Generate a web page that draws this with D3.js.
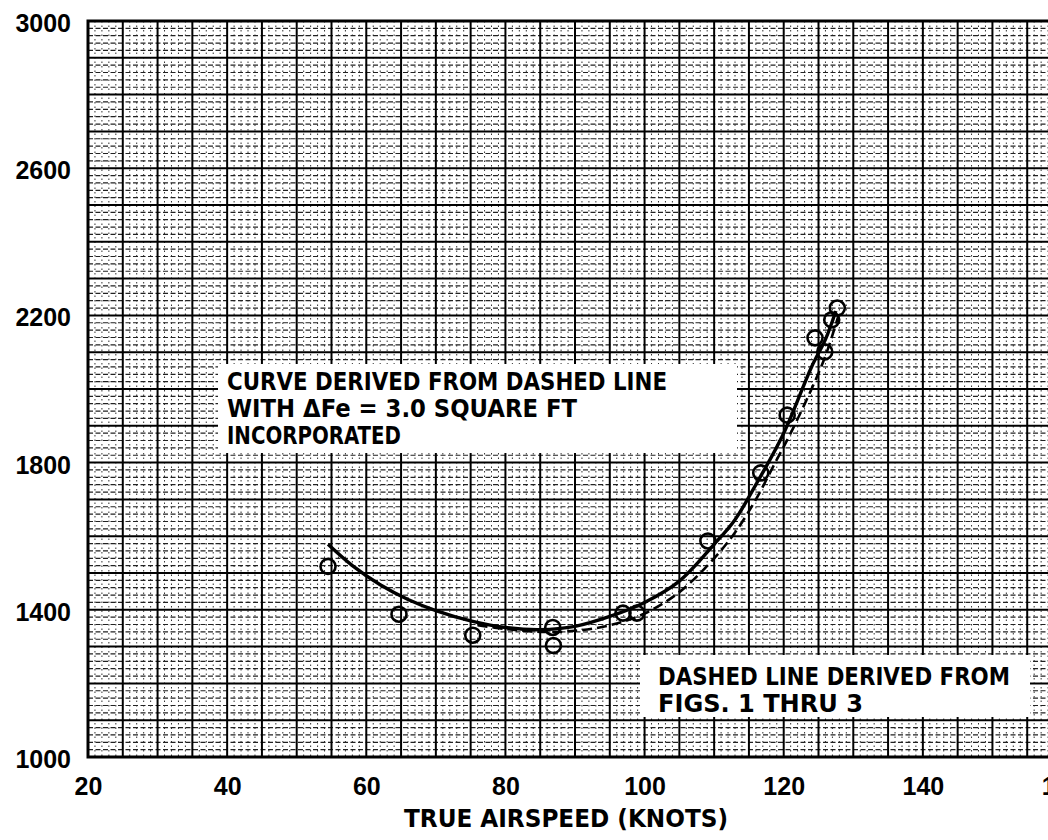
<!DOCTYPE html>
<html>
<head>
<meta charset="utf-8">
<script src="https://cdn.jsdelivr.net/npm/d3@7/dist/d3.min.js"></script>
<style>
  html, body { margin: 0; padding: 0; background: #fff; }
  svg { display: block; }
</style>
</head>
<body>
<svg id="chart" width="1048" height="840"></svg>
<script>
// ---- data ----
const xTicks = [20, 40, 60, 80, 100, 120, 140, 160];
const yTicks = [1000, 1400, 1800, 2200, 2600, 3000];
const xTitle = "TRUE AIRSPEED (KNOTS)";

const pointSpeed = [54.5, 64.7, 75.3, 86.8, 86.9, 96.9, 98.9, 109.1, 116.7, 120.5, 124.5, 125.9, 126.9, 127.7];
const pointPower = [1518, 1388, 1331, 1352, 1303, 1391, 1391, 1587, 1772, 1929, 2139, 2101, 2188, 2220];

const solidSpeed = [54.5, 58, 62, 66, 70, 75, 80, 85, 90, 95, 100, 105, 110, 113, 116, 120, 124, 126, 127.5];
const solidPower = [1578, 1520, 1468, 1428, 1398, 1370, 1352, 1346, 1355, 1382, 1420, 1478, 1578, 1645, 1740, 1880, 2060, 2135, 2212];

const dashedSpeed = [76, 80, 85, 90, 95, 100, 105, 110, 113, 116, 118.5, 121, 124, 126, 127.8];
const dashedPower = [1358, 1348, 1340, 1343, 1358, 1390, 1448, 1540, 1610, 1700, 1790, 1880, 2000, 2090, 2195];

const note1 = ["CURVE DERIVED FROM DASHED LINE", "WITH \u0394Fe = 3.0 SQUARE FT", "INCORPORATED"];
const note2 = ["DASHED LINE DERIVED FROM", "FIGS. 1 THRU 3"];

// ---- layout ----
const svg = d3.select("#chart");
const x = d3.scaleLinear().domain([20, 160]).range([88, 1062]);
const y = d3.scaleLinear().domain([1000, 3000]).range([757, 21]);
const narrow = "'DejaVu Sans Condensed', 'Liberation Sans Narrow', 'DejaVu Sans', sans-serif";
const digits = "'Liberation Sans', Arial, sans-serif";

// ---- grid ----
const grid = svg.append("g");
const minorX = d3.range(20, 161, 1).filter(v => v % 5 !== 0);
const majorX = d3.range(20, 161, 5);
const minorY = d3.range(1000, 3001, 20).filter(v => v % 100 !== 0);
const majorY = d3.range(1000, 3001, 100);

grid.selectAll(".mnx").data(minorX).join("line")
  .attr("x1", d => x(d)).attr("x2", d => x(d))
  .attr("y1", y(3000)).attr("y2", y(1000))
  .attr("stroke", "#333").attr("stroke-width", 1)
  .attr("stroke-dasharray", "1.5,3");
grid.selectAll(".mny").data(minorY).join("line")
  .attr("x1", x(20)).attr("x2", 1048)
  .attr("y1", d => y(d)).attr("y2", d => y(d))
  .attr("stroke", "#222").attr("stroke-width", 1.2)
  .attr("stroke-dasharray", "5,2.5");
grid.selectAll(".mjx").data(majorX).join("line")
  .attr("x1", d => x(d)).attr("x2", d => x(d))
  .attr("y1", y(3000)).attr("y2", y(1000))
  .attr("stroke", "#000").attr("stroke-width", 2);
grid.selectAll(".mjy").data(majorY).join("line")
  .attr("x1", x(20)).attr("x2", 1048)
  .attr("y1", d => y(d)).attr("y2", d => y(d))
  .attr("stroke", "#000").attr("stroke-width", 2);

// border
svg.append("path")
  .attr("d", `M1060,${y(3000)} H${x(20)} V${y(1000)} H1060`)
  .attr("fill", "none").attr("stroke", "#000").attr("stroke-width", 3);

// ---- annotation boxes ----
function noteBox(lines, bx, by, bw, bh, tx, baselines, widths) {
  svg.append("rect").attr("x", bx).attr("y", by).attr("width", bw).attr("height", bh)
    .attr("fill", "#fff");
  lines.forEach((t, i) => {
    svg.append("text").attr("x", tx).attr("y", baselines[i])
      .attr("font-family", narrow).attr("font-weight", "bold").attr("font-size", 25)
      .attr("textLength", widths[i]).attr("lengthAdjust", "spacingAndGlyphs")
      .attr("fill", "#000").text(t);
  });
}
noteBox(note1, 218, 364, 519, 89, 227, [390, 417, 444], [440, 350, 174]);
noteBox(note2, 640, 655, 390, 62, 658, [685, 712], [352, 205]);

// ---- curves ----
const line = d3.line().x(d => x(d[0])).y(d => y(d[1])).curve(d3.curveCatmullRom.alpha(0.5));
svg.append("path")
  .attr("d", line(dashedSpeed.map((s, i) => [s, dashedPower[i]])))
  .attr("fill", "none").attr("stroke", "#000").attr("stroke-width", 2.6)
  .attr("stroke-dasharray", "10,5");
svg.append("path")
  .attr("d", line(solidSpeed.map((s, i) => [s, solidPower[i]])))
  .attr("fill", "none").attr("stroke", "#000").attr("stroke-width", 3.4);

// ---- points ----
svg.selectAll(".pt").data(pointSpeed.map((s, i) => [s, pointPower[i]])).join("circle")
  .attr("cx", d => x(d[0])).attr("cy", d => y(d[1])).attr("r", 7.5)
  .attr("fill", "none").attr("stroke", "#000").attr("stroke-width", 2.6);

// ---- axes ----
const yAxis = svg.append("g").attr("transform", `translate(${x(20)},0)`)
  .call(d3.axisLeft(y).tickValues(yTicks).tickSize(0).tickPadding(17).tickFormat(d3.format("d")));
yAxis.select(".domain").remove();
yAxis.selectAll("text").attr("font-family", digits).attr("font-weight", "bold")
  .attr("font-size", 25).attr("fill", "#000").attr("dy", "0.42em");

const xAxis = svg.append("g").attr("transform", `translate(0,${y(1000)})`)
  .call(d3.axisBottom(x).tickValues(xTicks).tickSize(0).tickPadding(20).tickFormat(d3.format("d")));
xAxis.select(".domain").remove();
xAxis.selectAll("text").attr("font-family", digits).attr("font-weight", "bold")
  .attr("font-size", 25).attr("fill", "#000");

svg.append("text").attr("x", 404).attr("y", 827)
  .attr("font-family", narrow).attr("font-weight", "bold").attr("font-size", 24)
  .attr("textLength", 324).attr("lengthAdjust", "spacingAndGlyphs")
  .attr("fill", "#000").text(xTitle);
</script>
</body>
</html>
